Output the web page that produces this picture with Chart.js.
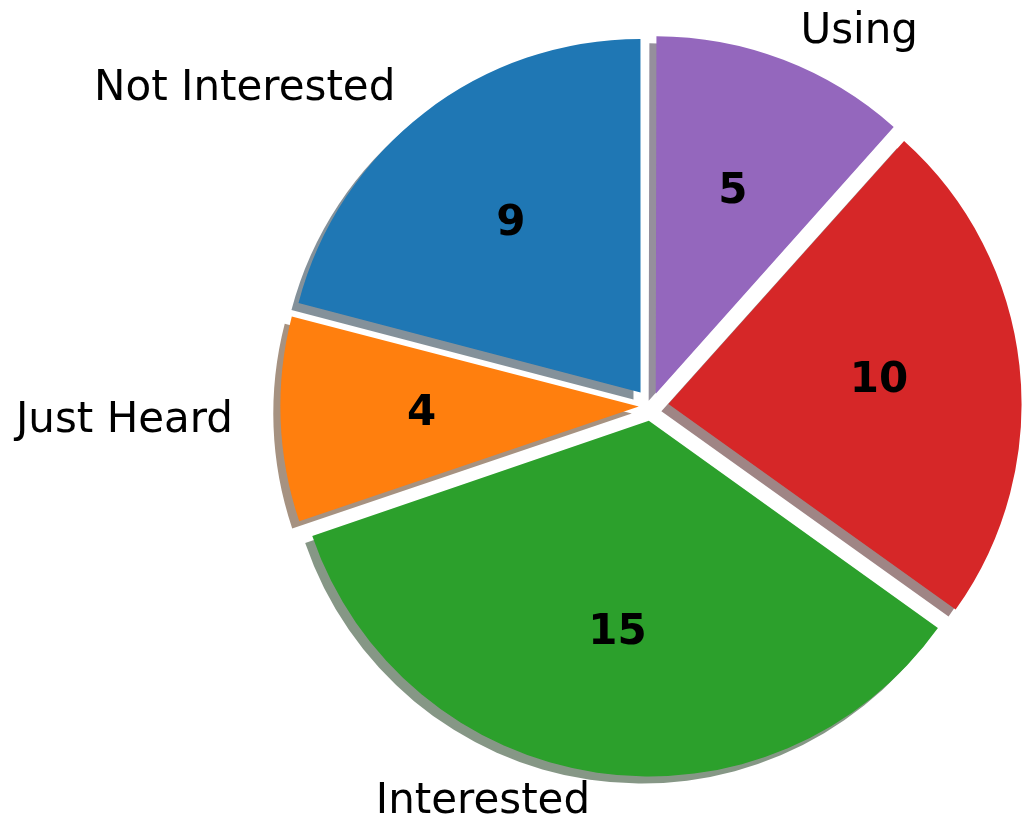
<!DOCTYPE html>
<html>
<head>
<meta charset="utf-8">
<title>Pie</title>
<script src="https://cdn.jsdelivr.net/npm/chart.js@4.4.1/dist/chart.umd.min.js"></script>
<style>
    html, body { margin: 0; padding: 0; background: #fff; }
    #wrap { width: 1022px; height: 816px; }
</style>
</head>
<body>
<div id="wrap"><canvas id="pie-chart" width="1022" height="816"></canvas></div>
<script>
// survey answers, in the order matplotlib drew them (counter-clockwise from the top)
const categories = ['Not Interested', 'Just Heard', 'Interested', 'Tried', 'Using'];
const counts = [9, 4, 15, 10, 5];
const sliceColors = ['#1f77b4', '#ff7f0e', '#2ca02c', '#d62728', '#9467bd'];

const RADIUS = 353;
const EXPLODE = 0.05 * RADIUS;
const SHADOW = 0.02 * RADIUS;
const TEXT_FONT = '42px "DejaVu Sans"';
const VALUE_FONT = 'bold 42px "DejaVu Sans"';
// outer labels sit a bit wider than tall in the original
const LABEL_KX = 1.135;
const LABEL_KY = 1.085;

// chart.js goes clockwise, so flip everything
const labels = categories.slice().reverse();
const values = counts.slice().reverse();
const colors = sliceColors.slice().reverse();
const total = values.reduce((a, b) => a + b, 0);

// chart.js moves an arc by offset/4 * (1 + fix), so work back to a fixed shift
function arcShift(circ, offset) {
    const fix = 1 - Math.sin(Math.min(Math.PI, circ));
    return offset / 4 * (1 + fix);
}
const offsets = values.map(v => {
    const circ = 2 * Math.PI * v / total;
    return EXPLODE / arcShift(circ, 1);
});

function shadowColor(hex) {
    const n = parseInt(hex.slice(1), 16);
    const r = Math.round(((n >> 16) & 255) * 0.3);
    const g = Math.round(((n >> 8) & 255) * 0.3);
    const b = Math.round((n & 255) * 0.3);
    return `rgba(${r}, ${g}, ${b}, 0.5)`;
}

const shadowPlugin = {
    id: 'shadows',
    beforeDatasetsDraw(chart) {
        const ctx = chart.ctx;
        const meta = chart.getDatasetMeta(0);
        meta.data.forEach((arc, i) => {
            const opts = arc.options;
            const bg = opts.backgroundColor;
            opts.backgroundColor = shadowColor(colors[i]);
            ctx.save();
            ctx.translate(-SHADOW, SHADOW);
            arc.draw(ctx);
            ctx.restore();
            opts.backgroundColor = bg;
        });
    }
};

const textPlugin = {
    id: 'pieText',
    afterDatasetsDraw(chart) {
        const ctx = chart.ctx;
        const meta = chart.getDatasetMeta(0);
        ctx.save();
        ctx.fillStyle = '#000';
        ctx.textBaseline = 'middle';
        meta.data.forEach((arc, i) => {
            const mid = (arc.startAngle + arc.endAngle) / 2;
            const shift = arcShift(arc.endAngle - arc.startAngle, arc.options.offset);
            const cx = arc.x + Math.cos(mid) * shift;
            const cy = arc.y + Math.sin(mid) * shift;
            const r = arc.outerRadius;

            const lx = cx + Math.cos(mid) * r * LABEL_KX;
            const ly = cy + Math.sin(mid) * r * LABEL_KY;
            ctx.font = TEXT_FONT;
            ctx.textAlign = Math.cos(mid) > 0 ? 'left' : 'right';
            ctx.fillText(labels[i], lx, ly);

            ctx.font = VALUE_FONT;
            ctx.textAlign = 'center';
            ctx.fillText(String(values[i]), cx + Math.cos(mid) * r * 0.6, cy + Math.sin(mid) * r * 0.6);
        });
        ctx.restore();
    }
};

const pieCtx = document.getElementById('pie-chart').getContext('2d');
// eslint-disable-next-line no-undef
new Chart(pieCtx, {
    type: 'pie',
    data: {
        labels: labels,
        datasets: [{
            data: values,
            backgroundColor: colors,
            borderWidth: 0,
            offset: offsets,
            hoverOffset: 0
        }]
    },
    options: {
        responsive: false,
        animation: false,
        radius: RADIUS,
        layout: { padding: { left: 280, right: 0, top: 0, bottom: 4 } },
        plugins: {
            legend: { display: false },
            tooltip: { enabled: false }
        },
        events: []
    },
    plugins: [shadowPlugin, textPlugin]
});
</script>
</body>
</html>
